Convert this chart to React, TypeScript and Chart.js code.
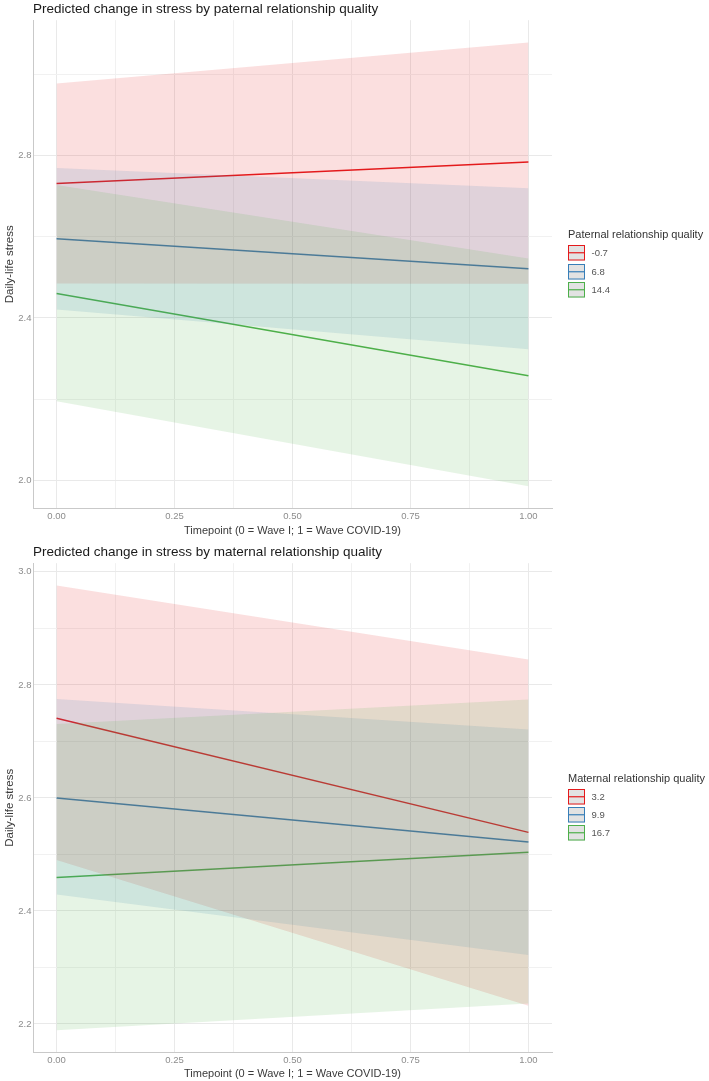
import React, { useEffect, useRef } from 'react';
import { Chart, registerables } from 'chart.js';
Chart.register(...registerables);

// ---- data ----
const timepoints = [0, 1];
const seriesColors = ['#E41A1C', '#377EB8', '#4DAF4A'];

// Paternal panel
const patLevels = ['-0.7', '6.8', '14.4'];
const patFitLow = [2.731, 2.784];
const patLowerLow = [2.485, 2.484];
const patUpperLow = [2.977, 3.078];
const patFitMid = [2.595, 2.521];
const patLowerMid = [2.421, 2.323];
const patUpperMid = [2.769, 2.719];
const patFitHigh = [2.46, 2.258];
const patLowerHigh = [2.195, 1.986];
const patUpperHigh = [2.727, 2.546];

// Maternal panel
const matLevels = ['3.2', '9.9', '16.7'];
const matFitLow = [2.741, 2.539];
const matLowerLow = [2.49, 2.232];
const matUpperLow = [2.976, 2.845];
const matFitMid = [2.6, 2.522];
const matLowerMid = [2.429, 2.322];
const matUpperMid = [2.775, 2.721];
const matFitHigh = [2.459, 2.504];
const matLowerHigh = [2.189, 2.236];
const matUpperHigh = [2.731, 2.774];

// ticks
const xGridValues = [0, 0.125, 0.25, 0.375, 0.5, 0.625, 0.75, 0.875, 1];
const xTickLabels = [0, 0.25, 0.5, 0.75, 1];
const patYGrid = [2.0, 2.2, 2.4, 2.6, 2.8, 3.0];
const patYLabels = [2.0, 2.4, 2.8];
const matYGrid = [2.2, 2.3, 2.4, 2.5, 2.6, 2.7, 2.8, 2.9, 3.0];
const matYLabels = [2.2, 2.4, 2.6, 2.8, 3.0];

const FONT = '"Liberation Sans", Arial, Helvetica, sans-serif';
const FILL_ALPHA = 0.14;

function hexToRgba(hex: string, a: number) {
  const n = parseInt(hex.slice(1), 16);
  return `rgba(${(n >> 16) & 255},${(n >> 8) & 255},${n & 255},${a})`;
}

const isIn = (v: number, arr: number[]) => arr.some((a) => Math.abs(a - v) < 1e-6);

const legendPlugin = {
  id: 'ggLegend',
  afterDraw(chart: any, _args: any, opts: any) {
    const { ctx, chartArea } = chart;
    const { title, labels, colors } = opts;
    const x0 = chartArea.right + 16;
    const keyStep = 18.3;
    const keyW = 17;
    const keyBoxH = 15.5;
    const c = (chartArea.top + chartArea.bottom) / 2;
    ctx.save();
    ctx.textBaseline = 'middle';
    ctx.textAlign = 'left';
    ctx.font = `11px ${FONT}`;
    ctx.fillStyle = '#333333';
    ctx.fillText(title, x0, c - 29);
    labels.forEach((lab: string, i: number) => {
      const ky = Math.round(c - 19 + i * keyStep);
      ctx.fillStyle = '#e2e2e2';
      ctx.fillRect(x0, ky, keyW, keyBoxH);
      ctx.strokeStyle = colors[i];
      ctx.lineWidth = 1;
      ctx.strokeRect(x0 + 0.5, ky + 0.5, keyW - 1, keyBoxH - 1);
      ctx.beginPath();
      const my = ky + keyBoxH / 2;
      ctx.moveTo(x0 + 1, my);
      ctx.lineTo(x0 + keyW - 1, my);
      ctx.lineWidth = 1.2;
      ctx.stroke();
      ctx.fillStyle = '#555555';
      ctx.font = `9.5px ${FONT}`;
      ctx.fillText(lab, x0 + keyW + 6.5, my + 1);
    });
    ctx.restore();
  },
};

function buildDatasets(fits: number[][], lowers: number[][], uppers: number[][]) {
  const ds: any[] = [];
  for (let i = 0; i < fits.length; i++) {
    ds.push({
      label: `upper${i}`,
      data: timepoints.map((x, j) => ({ x, y: uppers[i][j] })),
      borderWidth: 0,
      pointRadius: 0,
      backgroundColor: hexToRgba(seriesColors[i], FILL_ALPHA),
      fill: '+1',
      order: 3 - i,
    });
    ds.push({
      label: `lower${i}`,
      data: timepoints.map((x, j) => ({ x, y: lowers[i][j] })),
      borderWidth: 0,
      pointRadius: 0,
      fill: false,
      order: 3 - i,
    });
  }
  for (let i = 0; i < fits.length; i++) {
    ds.push({
      label: `fit${i}`,
      data: timepoints.map((x, j) => ({ x, y: fits[i][j] })),
      borderColor: seriesColors[i],
      borderWidth: 1.5,
      pointRadius: 0,
      fill: false,
      order: 10,
    });
  }
  return ds;
}

function gridColor(major: number[]) {
  return (ctx: any) => (ctx.tick && isIn(ctx.tick.value, major) ? '#e9e9e9' : '#f1f1f1');
}

function makeConfig(
  titleText: string,
  legendTitle: string,
  levels: string[],
  fits: number[][],
  lowers: number[][],
  uppers: number[][],
  yGrid: number[],
  yLabels: number[],
  topPad: number,
  bottomPad: number,
  xTickPad: number
): any {
  const allVals = [...lowers.flat(), ...uppers.flat()];
  const lo = Math.min(...allVals);
  const hi = Math.max(...allVals);
  const pad = (hi - lo) * 0.05;
  return {
    type: 'line',
    data: { datasets: buildDatasets(fits, lowers, uppers) },
    plugins: [legendPlugin],
    options: {
      animation: false,
      responsive: false,
      events: [],
      layout: { padding: { top: topPad, left: 0, right: 157, bottom: bottomPad } },
      plugins: {
        legend: { display: false },
        tooltip: { enabled: false },
        title: {
          display: true,
          text: titleText,
          align: 'start',
          fullSize: false,
          color: '#1a1a1a',
          font: { family: FONT, size: 13.5, weight: 'normal' },
          padding: { top: 0, bottom: 3 },
        },
        ggLegend: { title: legendTitle, labels: levels, colors: seriesColors },
      },
      scales: {
        x: {
          type: 'linear',
          min: -0.05,
          max: 1.05,
          afterBuildTicks: (axis: any) => {
            axis.ticks = xGridValues.map((v) => ({ value: v }));
          },
          ticks: {
            autoSkip: false,
            maxRotation: 0,
            padding: xTickPad,
            color: '#8c8c8c',
            font: { family: FONT, size: 9.5 },
            callback: (v: number) => (isIn(v, xTickLabels) ? v.toFixed(2) : ''),
          },
          grid: { color: gridColor(xTickLabels), drawTicks: false, lineWidth: 1 },
          border: { display: true, color: '#c9c9c9', width: 1 },
          title: {
            display: true,
            text: 'Timepoint (0 = Wave I; 1 = Wave COVID-19)',
            color: '#3a3a3a',
            font: { family: FONT, size: 11 },
            padding: { top: 0, bottom: 0 },
          },
        },
        y: {
          type: 'linear',
          min: lo - pad,
          max: hi + pad,
          afterBuildTicks: (axis: any) => {
            axis.ticks = yGrid.map((v) => ({ value: v }));
          },
          ticks: {
            autoSkip: false,
            padding: 1.5,
            color: '#8c8c8c',
            font: { family: FONT, size: 9.5 },
            callback: (v: number) => (isIn(v, yLabels) ? v.toFixed(1) : ''),
          },
          grid: { color: gridColor(yLabels), drawTicks: false, lineWidth: 1 },
          border: { display: true, color: '#c9c9c9', width: 1 },
          title: {
            display: true,
            text: 'Daily-life stress',
            color: '#3a3a3a',
            font: { family: FONT, size: 11.5 },
            padding: { top: 3, bottom: 0 },
          },
        },
      },
    },
  };
}

function ChartCanvas({ config, height }: { config: any; height: number }) {
  const ref = useRef<HTMLCanvasElement>(null);
  useEffect(() => {
    if (!ref.current) return;
    const chart = new Chart(ref.current, config);
    return () => chart.destroy();
  }, [config]);
  return <canvas ref={ref} width={709} height={height} style={{ display: 'block', width: 709, height }} />;
}

const patConfig = makeConfig(
  'Predicted change in stress by paternal relationship quality',
  'Paternal relationship quality',
  patLevels,
  [patFitLow, patFitMid, patFitHigh],
  [patLowerLow, patLowerMid, patLowerHigh],
  [patUpperLow, patUpperMid, patUpperHigh],
  patYGrid,
  patYLabels,
  1,
  2,
  2.5
);

const matConfig = makeConfig(
  'Predicted change in stress by maternal relationship quality',
  'Maternal relationship quality',
  matLevels,
  [matFitLow, matFitMid, matFitHigh],
  [matLowerLow, matLowerMid, matLowerHigh],
  [matUpperLow, matUpperMid, matUpperHigh],
  matYGrid,
  matYLabels,
  4,
  0,
  2
);

export default function App() {
  useEffect(() => {
    document.body.style.margin = '0';
    document.body.style.background = '#ffffff';
  }, []);
  return (
    <div style={{ width: 709, background: '#fff' }}>
      <ChartCanvas config={patConfig} height={540} />
      <ChartCanvas config={matConfig} height={541} />
    </div>
  );
}
